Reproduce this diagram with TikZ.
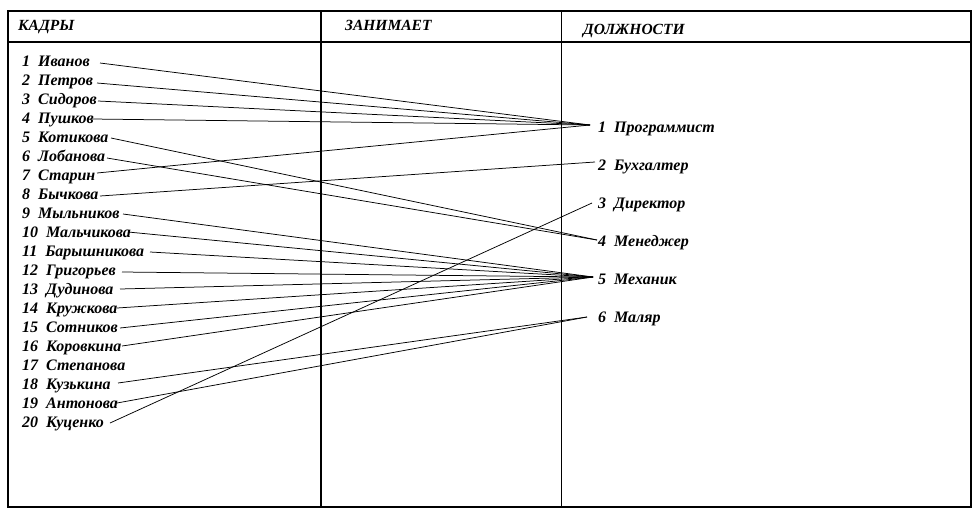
\documentclass[tikz,border=0pt]{standalone}
\usepackage{fontspec}
\setmainfont{Liberation Serif}
\begin{document}
\begin{tikzpicture}[x=1pt,y=-1pt,
  tbl/.style={line width=1.3pt},
  tblthin/.style={line width=0.8pt},
  link/.style={line width=0.75pt},
  nametxt/.style={anchor=base west,inner sep=0pt,font=\fontsize{16}{18}\selectfont\bfseries\itshape},
  headtxt/.style={anchor=base west,inner sep=0pt,font=\fontsize{15.5}{17}\selectfont\bfseries\itshape}]
\useasboundingbox (0,0) rectangle (976,517);
% table
\draw[tbl] (8,11) rectangle (971,507);
\draw[tbl] (8,42) -- (971,42);
\draw[tbl] (321,11) -- (321,507);
\draw[tblthin] (561,11) -- (561,507);
% headers
\node[headtxt] (h1) at (18,30) {КАДРЫ};
\node[headtxt] (h2) at (345,30) {ЗАНИМАЕТ};
\node[headtxt] (h3) at (583,34) {ДОЛЖНОСТИ};
% names
\foreach \i/\t in {1/Иванов,2/Петров,3/Сидоров,4/Пушков,5/Котикова,6/Лобанова,7/Старин,8/Бычкова,9/Мыльников,10/Мальчикова,11/Барышникова,12/Григорьев,13/Дудинова,14/Кружкова,15/Сотников,16/Коровкина,17/Степанова,18/Кузькина,19/Антонова,20/Куценко}
  \node[nametxt] (n\i) at (22,{66+19*(\i-1)}) {\i~~\t};
% jobs
\foreach \j/\t in {1/Программист,2/Бухгалтер,3/Директор,4/Менеджер,5/Механик,6/Маляр}
  \node[nametxt] (p\j) at (598,{132+38.1*(\j-1)}) {\j~~\t};
% line start points
\coordinate (s1) at (100,63);
\coordinate (s2) at (97,83);
\coordinate (s3) at (98,101);
\coordinate (s4) at (92,119);
\coordinate (s5) at (111,138);
\coordinate (s6) at (107,158);
\coordinate (s7) at (97,173);
\coordinate (s8) at (100,196);
\coordinate (s9) at (123,214);
\coordinate (s10) at (128,232);
\coordinate (s11) at (150,252);
\coordinate (s12) at (122,272);
\coordinate (s13) at (120,289);
\coordinate (s14) at (117,308);
\coordinate (s15) at (120,328);
\coordinate (s16) at (122,346);
\coordinate (s18) at (118,383);
\coordinate (s19) at (117,403);
\coordinate (s20) at (110,423);
% line end points
\coordinate (e1) at (590,125);
\coordinate (e2) at (595,162);
\coordinate (e3) at (592,203);
\coordinate (e4) at (597,240);
\coordinate (e5) at (593,277);
\coordinate (e6) at (587,317);
% links
\foreach \s in {1,2,3,4,7} \draw[link] (s\s) -- (e1);
\draw[link] (s8) -- (e2);
\draw[link] (s20) -- (e3);
\foreach \s in {5,6} \draw[link] (s\s) -- (e4);
\foreach \s in {9,10,11,12,13,14,15,16} \draw[link] (s\s) -- (e5);
\foreach \s in {18,19} \draw[link] (s\s) -- (e6);
\end{tikzpicture}
\end{document}
